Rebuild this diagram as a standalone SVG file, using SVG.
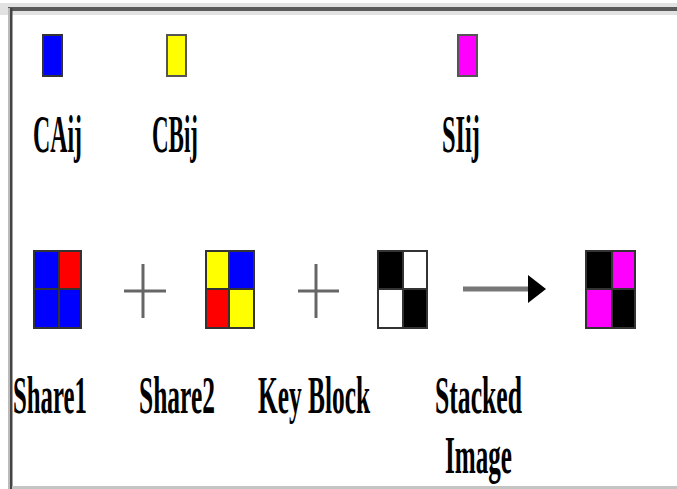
<svg xmlns="http://www.w3.org/2000/svg" width="677" height="489" viewBox="0 0 677 489">
<style>
.lbl{font-family:"Liberation Serif","Times New Roman",serif;font-weight:bold;font-size:52px;fill:#000}
.cell{stroke:#333;stroke-width:2}
.plus{stroke:#666;stroke-width:3}
</style>
<defs>
<marker id="ah" markerWidth="18" markerHeight="28" refX="0" refY="14" orient="auto" markerUnits="userSpaceOnUse">
<path d="M0,0 L18,14 L0,28 Z" fill="#000"/>
</marker>
</defs>
<rect width="677" height="489" fill="#fff"/>
<rect x="0" y="3" width="677" height="12" fill="#e2e2e2"/>
<rect x="8" y="7" width="669" height="4" fill="#5a5a5a"/>
<rect x="8" y="8" width="2" height="481" fill="#bbb"/>
<rect x="10" y="8" width="2.5" height="481" fill="#444"/>
<rect x="12" y="486" width="665" height="3" fill="#c4c4c4"/>

<g id="CAij">
<rect x="43" y="35" width="19" height="41" fill="#0000ff" stroke="#333" stroke-width="2"/>
<text class="lbl" transform="translate(33,152) scale(0.5,1)" textLength="98" lengthAdjust="spacingAndGlyphs">CAij</text>
</g>
<g id="CBij">
<rect x="167" y="35" width="19" height="41" fill="#ffff00" stroke="#555" stroke-width="2"/>
<text class="lbl" transform="translate(152,152) scale(0.5,1)" textLength="92" lengthAdjust="spacingAndGlyphs">CBij</text>
</g>
<g id="SIij">
<rect x="458" y="35" width="19" height="41" fill="#ff00ff" stroke="#555" stroke-width="2"/>
<text class="lbl" transform="translate(442,152) scale(0.5,1)" textLength="76" lengthAdjust="spacingAndGlyphs">SIij</text>
</g>

<g id="Share1">
<rect class="cell" x="34" y="251" width="25" height="38" fill="#0000ff"/>
<rect class="cell" x="59" y="251" width="22" height="38" fill="#ff0000"/>
<rect class="cell" x="34" y="289" width="25" height="39" fill="#0000ff"/>
<rect class="cell" x="59" y="289" width="22" height="39" fill="#0000ff"/>
<text class="lbl" transform="translate(13,413) scale(0.5,1)" textLength="148" lengthAdjust="spacingAndGlyphs">Share1</text>
</g>
<g id="Share2">
<rect class="cell" x="206" y="251" width="23" height="38" fill="#ffff00"/>
<rect class="cell" x="229" y="251" width="25" height="38" fill="#0000ff"/>
<rect class="cell" x="206" y="289" width="23" height="39" fill="#ff0000"/>
<rect class="cell" x="229" y="289" width="25" height="39" fill="#ffff00"/>
<text class="lbl" transform="translate(139,413) scale(0.5,1)" textLength="152" lengthAdjust="spacingAndGlyphs">Share2</text>
</g>
<g id="KeyBlock">
<rect class="cell" x="378" y="251" width="25" height="38" fill="#000"/>
<rect class="cell" x="403" y="251" width="24" height="38" fill="#fff" stroke="#777"/>
<rect class="cell" x="378" y="289" width="25" height="39" fill="#fff" stroke="#777"/>
<rect class="cell" x="403" y="289" width="24" height="39" fill="#000"/>
<text class="lbl" transform="translate(258,413) scale(0.5,1)" textLength="224" lengthAdjust="spacingAndGlyphs">Key Block</text>
</g>
<g id="StackedImage">
<rect class="cell" x="586" y="251" width="26" height="38" fill="#000"/>
<rect class="cell" x="612" y="251" width="23" height="38" fill="#ff00ff"/>
<rect class="cell" x="586" y="289" width="26" height="39" fill="#ff00ff"/>
<rect class="cell" x="612" y="289" width="23" height="39" fill="#000"/>
<text class="lbl" transform="translate(435,413) scale(0.5,1)" textLength="174" lengthAdjust="spacingAndGlyphs">Stacked</text>
<text class="lbl" transform="translate(445,473) scale(0.5,1)" textLength="134" lengthAdjust="spacingAndGlyphs">Image</text>
</g>

<g id="connectors">
<line class="plus" x1="124" y1="291" x2="166" y2="291"/>
<line class="plus" x1="143" y1="264" x2="143" y2="318"/>
<line class="plus" x1="298" y1="291" x2="339" y2="291"/>
<line class="plus" x1="316" y1="264" x2="316" y2="318"/>
<line x1="463" y1="289" x2="528" y2="289" stroke="#777" stroke-width="5" marker-end="url(#ah)"/>
</g>
</svg>
